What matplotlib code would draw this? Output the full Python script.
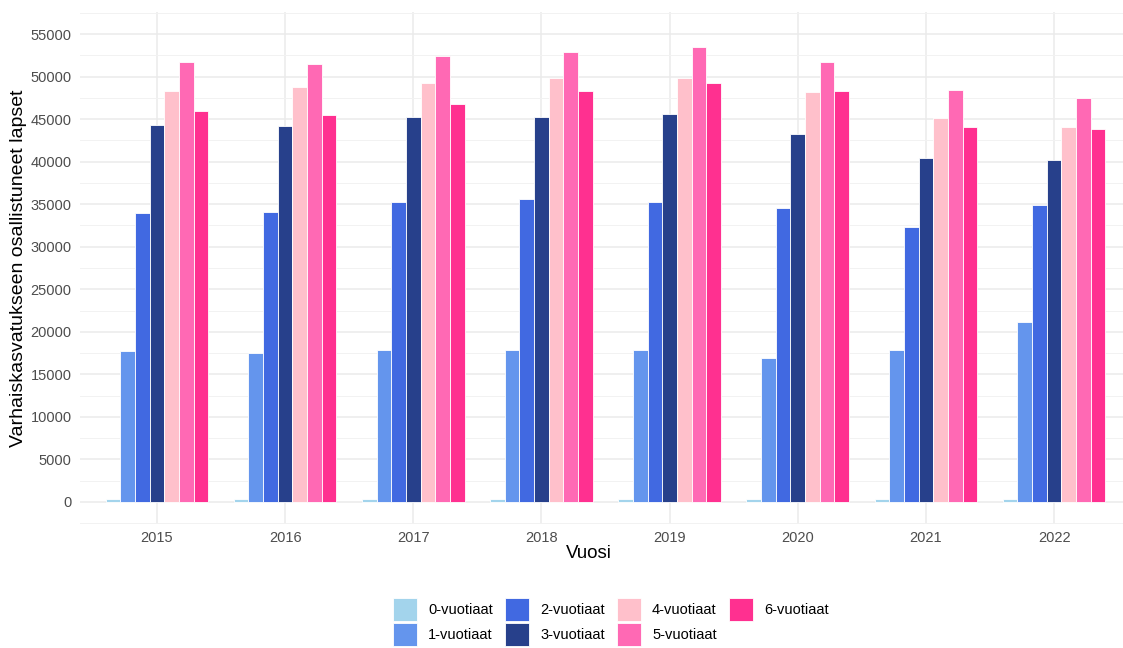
import matplotlib
import matplotlib.pyplot as plt
import numpy as np

matplotlib.use("Agg")

plt.rcParams["font.family"] = ["Liberation Sans", "DejaVu Sans"]

YEARS = ["2015", "2016", "2017", "2018", "2019", "2020", "2021", "2022"]
AGE_GROUPS = [
    "0-vuotiaat", "1-vuotiaat", "2-vuotiaat", "3-vuotiaat",
    "4-vuotiaat", "5-vuotiaat", "6-vuotiaat",
]
AGE_0 = [350, 340, 330, 330, 320, 290, 330, 380]
AGE_1 = [17770, 17450, 17870, 17900, 17900, 16950, 17900, 21190]
AGE_2 = [34000, 34070, 35280, 35590, 35280, 34540, 32340, 34890]
AGE_3 = [44350, 44200, 45300, 45260, 45570, 43300, 40480, 40210]
AGE_4 = [48310, 48780, 49250, 49840, 49800, 48150, 45100, 44080]
AGE_5 = [51750, 51440, 52380, 52850, 53480, 51680, 48430, 47450]
AGE_6 = [45960, 45530, 46820, 48270, 49210, 48350, 44080, 43810]
COLORS = ["#a3d4ec", "#6495ed", "#4169e1", "#27408b", "#ffc0cb", "#ff69b4", "#ff3090"]

OUTPUT_PATH = "out.png"


def main() -> None:
    series = [AGE_0, AGE_1, AGE_2, AGE_3, AGE_4, AGE_5, AGE_6]
    fig = plt.figure(figsize=(11.23, 6.48), dpi=100)
    ax = fig.add_axes([80 / 1123, 1 - 524 / 648, 1051 / 1123, 512 / 648])

    x = np.arange(len(YEARS))
    n = len(series)
    width = 0.8 / n
    for i, (vals, label, color) in enumerate(zip(series, AGE_GROUPS, COLORS)):
        offset = (i - (n - 1) / 2) * width
        ax.bar(x + offset, vals, width, color=color, edgecolor="white",
               linewidth=0.6, label=label, zorder=3)

    ax.set_xlim(-0.6, len(YEARS) - 0.4)
    ax.set_ylim(-2600, 57600)
    ax.set_xticks(x)
    ax.set_xticklabels(YEARS)
    ax.set_yticks(np.arange(0, 55001, 5000))
    ax.set_yticks(np.arange(-2500, 57501, 5000), minor=True)

    ax.grid(which="major", color="#ebebeb", linewidth=1.1, zorder=0)
    ax.grid(which="minor", axis="y", color="#f2f2f2", linewidth=0.7, zorder=0)
    for spine in ax.spines.values():
        spine.set_visible(False)
    ax.tick_params(axis="both", which="both", length=0, labelsize=10.5,
                   labelcolor="#4d4d4d")
    ax.tick_params(axis="y", pad=6)
    ax.tick_params(axis="x", pad=5)

    ax.set_ylabel("Varhaiskasvatukseen osallistuneet lapset", fontsize=14)
    ax.yaxis.set_label_coords(-53 / 1051, 0.5)
    ax.set_xlabel("Vuosi", fontsize=13.5)
    ax.xaxis.set_label_coords((589 - 80) / 1051, -21 / 512)

    fig.legend(
        loc="center",
        bbox_to_anchor=(611 / 1123, 1 - 622 / 648),
        ncol=4,
        frameon=False,
        fontsize=10.5,
        handlelength=1.64,
        handleheight=2.05,
        handletextpad=0.75,
        columnspacing=0.85,
        labelspacing=0.15,
    )

    fig.savefig(OUTPUT_PATH, dpi=100)
    plt.close(fig)


if __name__ == "__main__":
    main()
